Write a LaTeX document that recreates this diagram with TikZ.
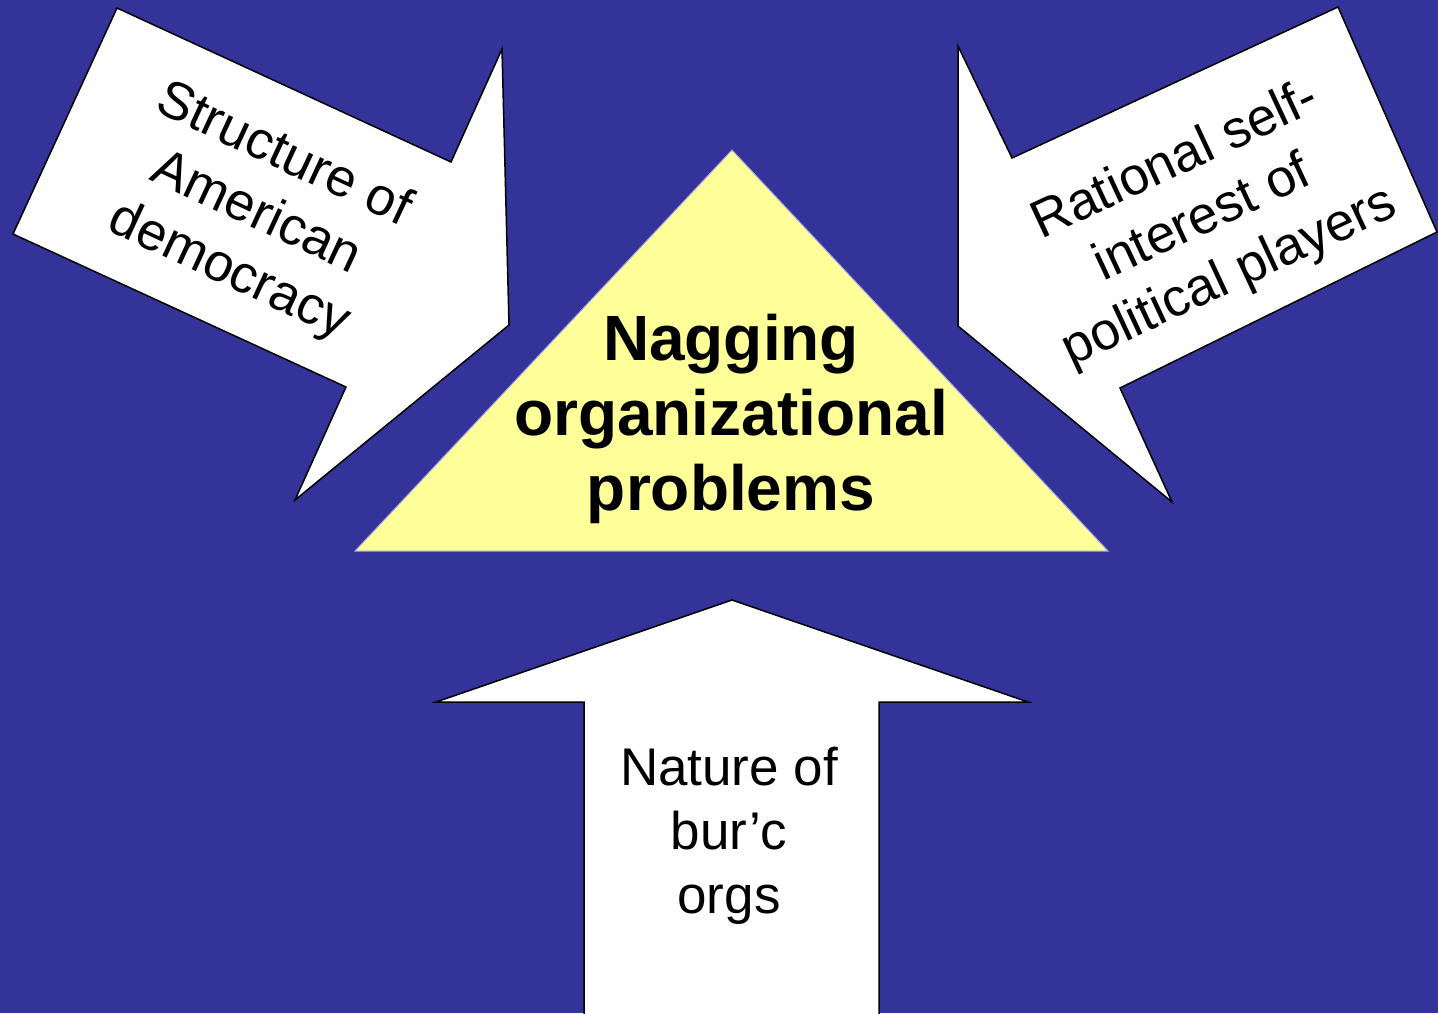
\documentclass[tikz,border=0pt]{standalone}
\usepackage{fontspec}
\setmainfont{Liberation Sans}
\definecolor{slideblue}{HTML}{333399}
\definecolor{paleyellow}{HTML}{FFFF99}
\definecolor{rimblue}{HTML}{A0A0E0}

\begin{document}
\begin{tikzpicture}[
  x=0.5pt, y=-0.5pt,
  pointer/.style={draw=black, fill=white, line width=0.75pt, line join=miter},
  peak/.style={draw=rimblue, fill=paleyellow, line width=0.5pt},
  pointertext/.style={align=center, inner sep=0pt, font=\fontsize{26.5}{32}\selectfont},
  peaktext/.style={align=center, inner sep=0pt, font=\fontsize{32}{37.5}\selectfont\bfseries}
]
\fill[slideblue] (0,0) rectangle (1438,1013);
\clip (0,0) rectangle (1438,1013);

% yellow triangle
\draw[peak] (732,150) -- (1108,551) -- (355,551) -- cycle;

% three arrows
\draw[pointer] (117,8) -- (451,162) -- (502,49) -- (509,325) -- (295,500) -- (346,387) -- (13,234) -- cycle;
\draw[pointer] (1338,7) -- (1437,232) -- (1120,388) -- (1172,502) -- (958,326) -- (958,46) -- (1012,158) -- cycle;
\draw[pointer] (732,600) -- (1028,702) -- (879,702) -- (879,1030) -- (584,1030) -- (584,702) -- (436,702) -- cycle;

\node[peaktext] (problems) at (731,419) {Nagging\\organizational\\problems};
\node[pointertext, rotate=-25] (structure) at (256,214) {Structure of\\American\\democracy};
\node[pointertext, rotate=25] (interest) at (1203,220) {Rational self-\\interest of\\political players};
\node[pointertext] (nature) at (729,836) {Nature of\\bur’c\\orgs};
\end{tikzpicture}
\end{document}
